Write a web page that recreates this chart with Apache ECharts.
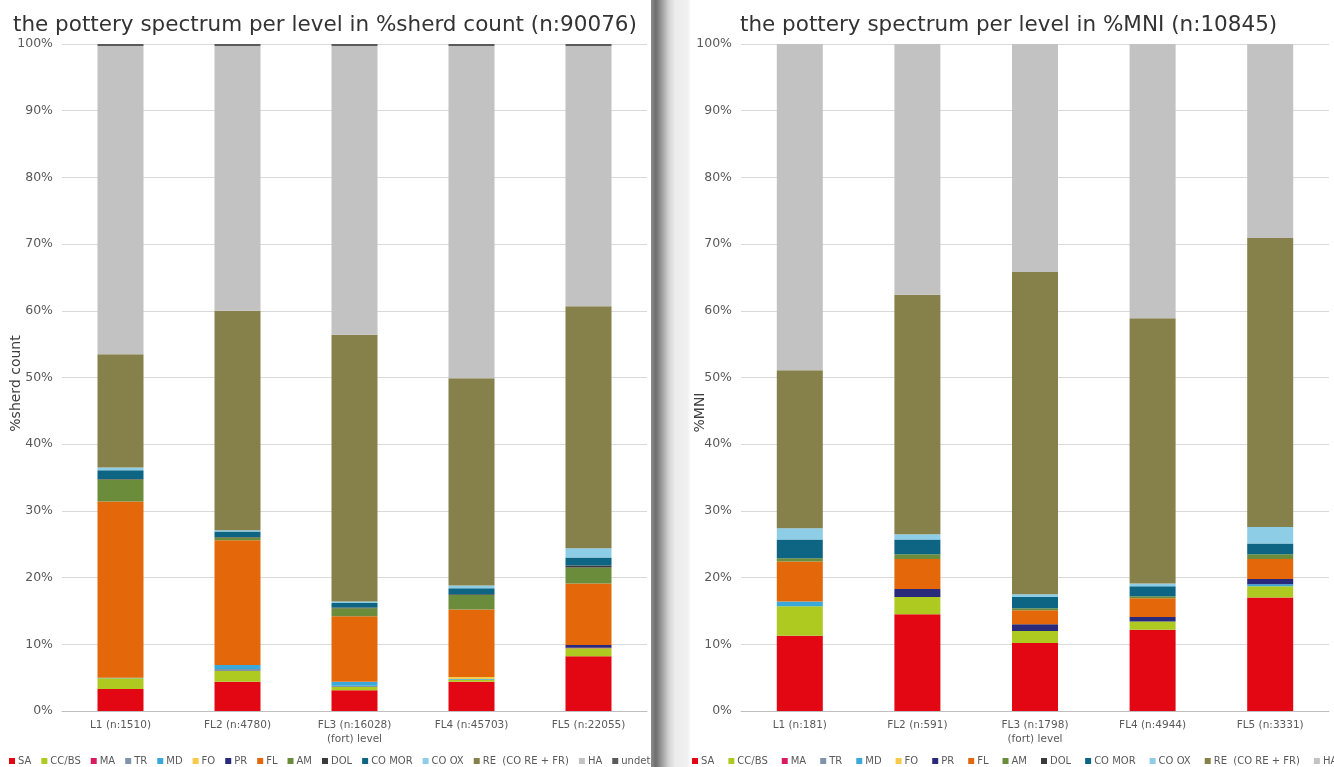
<!DOCTYPE html>
<html>
<head>
<meta charset="utf-8">
<script src="https://cdn.jsdelivr.net/npm/echarts@6/dist/echarts.min.js"></script>
<style>
html,body{margin:0;padding:0;background:#fff;}
#chart{width:1334px;height:767px;}
</style>
</head>
<body>
<div id="chart"></div>
<script>
// ---- data ----
const categoriesLeft = ['L1 (n:1510)', 'FL2 (n:4780)', 'FL3 (n:16028)\n(fort) level', 'FL4 (n:45703)', 'FL5 (n:22055)'];
const categoriesRight = ['L1 (n:181)', 'FL2 (n:591)', 'FL3 (n:1798)\n(fort) level', 'FL4 (n:4944)', 'FL5 (n:3331)'];
const yTicks = [0, 10, 20, 30, 40, 50, 60, 70, 80, 90, 100];

const seriesNames = ['SA', 'CC/BS', 'MA', 'TR', 'MD', 'FO', 'PR', 'FL', 'AM', 'DOL', 'CO MOR', 'CO OX', 'RE  (CO RE + FR)', 'HA', 'undet.'];

// % sherd count (left chart)
const sherdSA     = [3.3, 4.4, 3.1, 4.4, 8.2];
const sherdCCBS   = [1.6, 1.6, 0.5, 0.3, 1.2];
const sherdMA     = [0, 0, 0, 0, 0.1];
const sherdTR     = [0, 0.3, 0.2, 0, 0];
const sherdMD     = [0.1, 0.6, 0.6, 0.1, 0];
const sherdFO     = [0, 0, 0, 0.3, 0];
const sherdPR     = [0, 0, 0, 0, 0.4];
const sherdFL     = [26.4, 18.7, 9.8, 10.1, 9.2];
const sherdAM     = [3.3, 0.4, 1.2, 2.2, 2.4];
const sherdDOL    = [0.1, 0.1, 0.1, 0.1, 0.3];
const sherdCOMOR  = [1.3, 0.8, 0.7, 0.9, 1.2];
const sherdCOOX   = [0.4, 0.2, 0.2, 0.4, 1.4];
const sherdRE     = [17.0, 32.9, 40.0, 31.1, 36.3];
const sherdHA     = [46.2, 39.7, 43.3, 49.8, 39.0];
const sherdUndet  = [0.3, 0.3, 0.3, 0.3, 0.3];

// % MNI (right chart)
const mniSA    = [11.3, 14.5, 10.2, 12.2, 17.0];
const mniCCBS  = [4.4, 2.6, 1.8, 1.2, 1.7];
const mniMA    = [0, 0, 0, 0, 0];
const mniTR    = [0, 0, 0, 0, 0];
const mniMD    = [0.7, 0, 0, 0, 0.3];
const mniFO    = [0, 0, 0, 0, 0];
const mniPR    = [0, 1.2, 1.0, 0.7, 0.8];
const mniFL    = [6.0, 4.5, 2.1, 2.8, 3.0];
const mniAM    = [0.5, 0.7, 0.3, 0.3, 0.7];
const mniDOL   = [0, 0, 0, 0, 0];
const mniCOMOR = [2.8, 2.2, 1.7, 1.5, 1.6];
const mniCOOX  = [1.7, 0.8, 0.4, 0.4, 2.5];
const mniRE    = [23.7, 35.9, 48.3, 39.8, 43.3];
const mniHA    = [48.9, 37.6, 34.2, 41.1, 29.1];

// ---- styling ----
const colors = {
  'SA': '#e30613',
  'CC/BS': '#aec920',
  'MA': '#d81b60',
  'TR': '#7f93ab',
  'MD': '#3aa8d8',
  'FO': '#f7ca4a',
  'PR': '#2a2a7c',
  'FL': '#e4670a',
  'AM': '#6b8c3a',
  'DOL': '#3a3a3a',
  'CO MOR': '#0d6583',
  'CO OX': '#8ecde6',
  'RE  (CO RE + FR)': '#86814b',
  'HA': '#c2c2c2',
  'undet.': '#5a5a5a'
};

const leftData = [sherdSA, sherdCCBS, sherdMA, sherdTR, sherdMD, sherdFO, sherdPR, sherdFL, sherdAM, sherdDOL, sherdCOMOR, sherdCOOX, sherdRE, sherdHA, sherdUndet];
const rightData = [mniSA, mniCCBS, mniMA, mniTR, mniMD, mniFO, mniPR, mniFL, mniAM, mniDOL, mniCOMOR, mniCOOX, mniRE, mniHA];

const series = [];
leftData.forEach((d, i) => {
  series.push({
    name: seriesNames[i], type: 'bar', stack: 'sherd', xAxisIndex: 0, yAxisIndex: 0,
    barWidth: 46, data: d, itemStyle: { color: colors[seriesNames[i]] },
    emphasis: { disabled: true }
  });
});
rightData.forEach((d, i) => {
  series.push({
    name: seriesNames[i], type: 'bar', stack: 'mni', xAxisIndex: 1, yAxisIndex: 1,
    barWidth: 46, data: d, itemStyle: { color: colors[seriesNames[i]] },
    emphasis: { disabled: true }
  });
});

const txt = '#595959';
const font = 'DejaVu Sans, Verdana, sans-serif';

function xAxis(idx, cats) {
  return {
    type: 'category', gridIndex: idx, data: cats,
    axisLine: { lineStyle: { color: '#bfbfbf' } },
    axisTick: { show: false },
    axisLabel: { color: txt, fontSize: 10.5, fontFamily: font, margin: 7, lineHeight: 14 }
  };
}
function yAxis(idx, name, gap, namePad) {
  return {
    type: 'value', gridIndex: idx, min: yTicks[0], max: yTicks[yTicks.length - 1], interval: 10,
    name: name, nameLocation: 'middle', nameGap: gap, nameRotate: 90, nameMoveOverlap: false,
    nameTextStyle: { color: '#404040', fontSize: 14, fontFamily: font, padding: namePad },
    axisLine: { show: false }, axisTick: { show: false },
    axisLabel: { color: txt, fontSize: 12.5, fontFamily: font, formatter: '{value}%', margin: 9 },
    splitLine: { lineStyle: { color: '#d9d9d9' } }
  };
}

const chart = echarts.init(document.getElementById('chart'));
chart.setOption({
  animation: false,
  backgroundColor: '#fff',
  title: [
    { text: 'the pottery spectrum per level in %sherd count (n:90076)', left: 8, top: 9,
      textStyle: { fontSize: 21.5, fontWeight: 'normal', color: '#333', fontFamily: font } },
    { text: 'the pottery spectrum per level in %MNI (n:10845)', left: 735, top: 9,
      textStyle: { fontSize: 21.5, fontWeight: 'normal', color: '#333', fontFamily: font } }
  ],
  graphic: [{
    type: 'rect', left: 651, top: 0, z: 100,
    shape: { width: 40, height: 767 },
    style: {
      fill: new echarts.graphic.LinearGradient(0, 0, 1, 0, [
        { offset: 0, color: '#8c8c8c' },
        { offset: 0.12, color: '#6e6e6e' },
        { offset: 0.45, color: '#d4d4d4' },
        { offset: 0.6, color: '#ececec' },
        { offset: 0.92, color: '#f1f1f1' },
        { offset: 1, color: '#ffffff' }
      ])
    },
    silent: true
  }],
  legend: [
    { data: seriesNames, left: 4, top: 751, width: 700, itemWidth: 6, itemHeight: 6, itemGap: 10, icon: 'rect',
      textStyle: { color: txt, fontSize: 10, fontFamily: font, padding: [0, 0, 0, -2] } },
    { data: seriesNames.slice(0, 14), left: 687, top: 751, width: 700, itemWidth: 6, itemHeight: 6, itemGap: 14, icon: 'rect',
      textStyle: { color: txt, fontSize: 10, fontFamily: font, padding: [0, 0, 0, -2] } }
  ],
  grid: [
    { left: 62, top: 44, width: 585, height: 667 },
    { left: 741, top: 44, width: 588, height: 667 }
  ],
  xAxis: [xAxis(0, categoriesLeft), xAxis(1, categoriesRight)],
  yAxis: [yAxis(0, '%sherd count', 39, [0, 12, 0, 0]), yAxis(1, '%MNI', 34, [0, 70, 0, 0])],
  series: series
});
</script>
</body>
</html>
